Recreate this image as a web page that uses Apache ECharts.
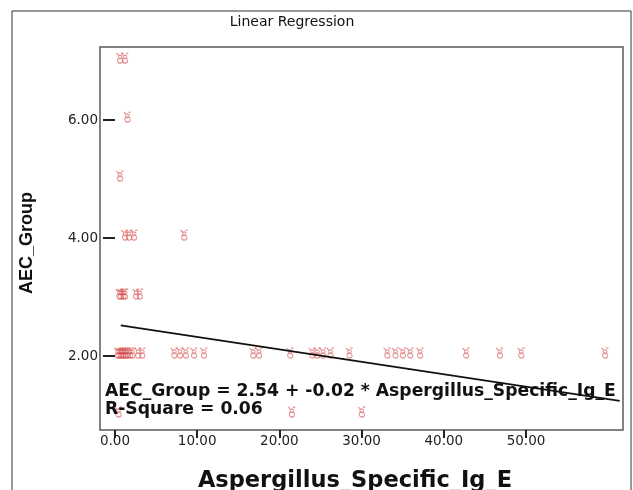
<!DOCTYPE html>
<html>
<head>
<meta charset="utf-8">
<script src="https://cdn.jsdelivr.net/npm/echarts@6/dist/echarts.min.js"></script>
<style>html,body{margin:0;padding:0;background:#fff}#c{width:633px;height:490px}</style>
</head>
<body>
<div id="c"></div>
<script>
const xTicks = [0, 10, 20, 30, 40, 50];
const yTicks = [2, 4, 6];
const pointsX = [
  0.6, 1.2,
  1.5,
  0.6,
  1.2, 1.7, 2.3, 8.4,
  0.5, 0.7, 1.0, 1.2, 2.55, 3.0,
  0.3, 0.5, 0.7, 0.9, 1.1, 1.3, 1.5, 1.8, 2.1, 2.8, 3.3, 7.2, 7.9, 8.6, 9.6, 10.8,
  16.8, 17.5, 21.3, 24.0, 24.6, 25.3, 26.2, 28.5, 33.1, 34.1, 35.0, 35.9, 37.1,
  42.7, 46.8, 49.4, 59.6,
  0.4, 21.5, 30.0
];
const pointsY = [
  7, 7,
  6,
  5,
  4, 4, 4, 4,
  3, 3, 3, 3, 3, 3,
  2, 2, 2, 2, 2, 2, 2, 2, 2, 2, 2, 2, 2, 2, 2, 2,
  2, 2, 2, 2, 2, 2, 2, 2, 2, 2, 2, 2, 2,
  2, 2, 2, 2,
  1, 1, 1
];
const fitLineX = [0.7, 61.4];
const fitLineY = [2.52, 1.24];
const titleText = 'Linear Regression';
const xName = 'Aspergillus_Specific_Ig_E';
const yName = 'AEC_Group';
const eqText = 'AEC_Group = 2.54 + -0.02 * Aspergillus_Specific_Ig_E';
const r2Text = 'R-Square = 0.06';

const glyph = 'path://M4,4.8A2.4,2.4 0 1,1 3.99,4.8ZM4,2A1.7,1.7 0 1,1 3.99,2ZM0.6,0.2L3,2.6M5,0.4L7,0.2';
const fmt = v => v.toFixed(2);

const chart = echarts.init(document.getElementById('c'), null, {renderer: 'canvas'});
chart.setOption({
  backgroundColor: '#fff',
  animation: false,
  grid: {left: 100, right: 10, top: 47, bottom: 60, show: true, borderColor: '#5a5a5a', borderWidth: 1.5, backgroundColor: '#fff'},
  xAxis: {
    type: 'value', min: -1.82, max: 61.8,
    axisLine: {show: false},
    splitLine: {show: false},
    axisTick: {show: true, length: 8, inside: false, lineStyle: {color: '#222', width: 2}, customValues: xTicks},
    axisLabel: {customValues: xTicks, formatter: fmt, color: '#222', fontFamily: 'DejaVu Sans', fontSize: 13.5, margin: 4}
  },
  yAxis: {
    type: 'value', min: 0.746, max: 7.24,
    axisLine: {show: false},
    splitLine: {show: false},
    axisTick: {show: true, length: 12, inside: false, lineStyle: {color: '#222', width: 2}, customValues: yTicks},
    axisLabel: {customValues: yTicks, formatter: fmt, color: '#222', fontFamily: 'DejaVu Sans', fontSize: 13.5, margin: 2}
  },
  series: [
    {
      type: 'scatter',
      data: pointsX.map((x, i) => [x, pointsY[i]]),
      symbol: glyph,
      symbolSize: [7, 10],
      symbolOffset: [0, -3],
      itemStyle: {color: 'rgba(0,0,0,0)', borderColor: 'rgba(205,45,45,0.65)', borderWidth: 1.1},
      z: 3
    },
    {
      type: 'line',
      data: fitLineX.map((x, i) => [x, fitLineY[i]]),
      symbol: 'none',
      lineStyle: {color: '#111', width: 1.6},
      z: 4
    }
  ],
  graphic: [
    {type: 'rect', shape: {x: 12, y: 11, width: 619, height: 500}, style: {fill: 'none', stroke: '#333', lineWidth: 1}, z: 10, silent: true},
    {type: 'text', x: 292, y: 22, style: {text: titleText, font: '14px "DejaVu Sans"', fill: '#111', align: 'center', verticalAlign: 'middle'}, z: 10},
    {type: 'text', x: 355, y: 481, style: {text: xName, font: 'bold 22.5px "DejaVu Sans"', fill: '#111', align: 'center', verticalAlign: 'middle'}, z: 10},
    {type: 'text', x: 27, y: 243, rotation: Math.PI / 2, style: {text: yName, font: 'bold 18px "Liberation Sans"', fill: '#111', align: 'center', verticalAlign: 'middle'}, z: 10},
    {type: 'text', x: 105, y: 392, style: {text: eqText, font: 'bold 17.2px "DejaVu Sans"', fill: '#111', align: 'left', verticalAlign: 'middle'}, z: 10},
    {type: 'text', x: 105, y: 410, style: {text: r2Text, font: 'bold 17.2px "DejaVu Sans"', fill: '#111', align: 'left', verticalAlign: 'middle'}, z: 10}
  ]
});
</script>
</body>
</html>
